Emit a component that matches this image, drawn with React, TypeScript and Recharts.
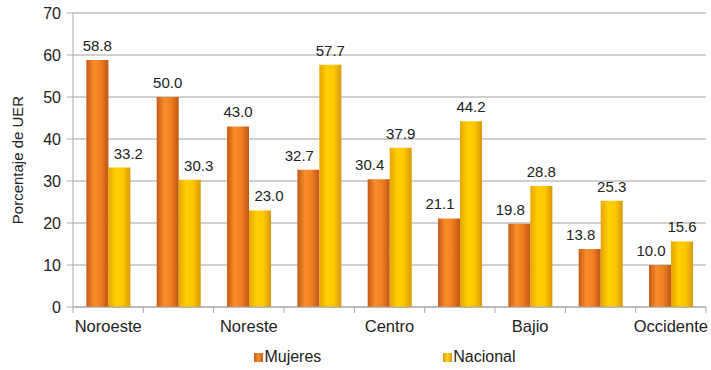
import { BarChart, Bar, XAxis, YAxis, CartesianGrid, Legend, LabelList } from 'recharts';

const regions = ['Noroeste', 'Norte', 'Noreste', 'Centro Norte', 'Centro', 'Centro Sur', 'Bajio', 'Sur', 'Occidente'];
const mujeres = [58.8, 50.0, 43.0, 32.7, 30.4, 21.1, 19.8, 13.8, 10.0];
const nacional = [33.2, 30.3, 23.0, 57.7, 37.9, 44.2, 28.8, 25.3, 15.6];
const yTicks = [0, 10, 20, 30, 40, 50, 60, 70];

const data = regions.map((name, i) => ({ name, mujeres: mujeres[i], nacional: nacional[i] }));

const W = 711;
const H = 370;
const PLOT_LEFT = 73;
const PLOT_RIGHT = 706;
const band = (PLOT_RIGHT - PLOT_LEFT) / regions.length;

const font = '"Liberation Sans", Arial, sans-serif';

const CategoryTick = (props: any) => {
  const { x, y, payload } = props;
  const idx = payload.index;
  const left = x - band / 2;
  return (
    <g>
      <line x1={left} y1={y - 8} x2={left} y2={y - 2} stroke="#a6a6a6" />
      {idx === regions.length - 1 && (
        <line x1={x + band / 2} y1={y - 8} x2={x + band / 2} y2={y - 2} stroke="#a6a6a6" />
      )}
      {idx % 2 === 0 && (
        <text x={x} y={y + 17} textAnchor="middle" fill="#222" fontSize={16.5} fontFamily={font}>
          {payload.value}
        </text>
      )}
    </g>
  );
};

const LegendContent = () => (
  <div
    style={{
      display: 'flex',
      justifyContent: 'center',
      fontFamily: font,
      fontSize: 16,
      color: '#222',
      paddingTop: 6,
      paddingLeft: 64,
    }}
  >
    <div style={{ display: 'flex', alignItems: 'center', marginRight: 122 }}>
      <span style={{ width: 9, height: 9, background: 'linear-gradient(90deg,#c85e18,#f8902c,#c85e18)', marginRight: 1 }} />
      Mujeres
    </div>
    <div style={{ display: 'flex', alignItems: 'center' }}>
      <span style={{ width: 9, height: 9, background: 'linear-gradient(90deg,#d89800,#ffd21a,#d89800)', marginRight: 1 }} />
      Nacional
    </div>
  </div>
);

// value label; the lower bar of a pair gets pushed outward like the original
const makeLabel = (own: number[], other: number[], dir: number) => (props: any) => {
  const { x, y, width, index, value } = props;
  const shift = own[index] < other[index] ? dir * 9 : 0;
  return (
    <text
      x={x + width / 2 + shift}
      y={y - 9}
      textAnchor="middle"
      fill="#222"
      fontSize={15}
      fontFamily={font}
    >
      {Number(value).toFixed(1)}
    </text>
  );
};

export default function App() {
  return (
    <div style={{ position: 'absolute', left: 0, top: 0, background: '#fff' }}>
      <BarChart
        width={W}
        height={H}
        data={data}
        margin={{ top: 13, right: W - PLOT_RIGHT, left: 0, bottom: 0 }}
        barCategoryGap="19%"
        barGap={0}
      >
        <defs>
          <linearGradient id="gOrange" x1="0" y1="0" x2="1" y2="0">
            <stop offset="0%" stopColor="#c65a16" />
            <stop offset="35%" stopColor="#f98e2a" />
            <stop offset="65%" stopColor="#f07f22" />
            <stop offset="100%" stopColor="#c05514" />
          </linearGradient>
          <linearGradient id="gYellow" x1="0" y1="0" x2="1" y2="0">
            <stop offset="0%" stopColor="#e5a400" />
            <stop offset="35%" stopColor="#ffd000" />
            <stop offset="65%" stopColor="#ffc800" />
            <stop offset="100%" stopColor="#d89800" />
          </linearGradient>
        </defs>
        <CartesianGrid vertical={false} stroke="#a0a0a0" />
        <XAxis
          dataKey="name"
          interval={0}
          height={35}
          tickLine={false}
          axisLine={{ stroke: '#a6a6a6' }}
          tick={<CategoryTick />}
        />
        <YAxis
          domain={[0, 70]}
          ticks={yTicks}
          width={PLOT_LEFT}
          tickSize={6}
          tickMargin={6}
          tickLine={{ stroke: '#a6a6a6' }}
          axisLine={{ stroke: '#a6a6a6' }}
          tick={{ fill: '#222', fontSize: 16, fontFamily: font }}
          label={{
            value: 'Porcentaje de UER',
            angle: -90,
            position: 'insideLeft',
            offset: 18,
            style: { textAnchor: 'middle', fill: '#222', fontSize: 15, fontFamily: font },
          }}
        />
        <Legend verticalAlign="bottom" height={28} content={<LegendContent />} />
        <Bar dataKey="mujeres" name="Mujeres" fill="url(#gOrange)" isAnimationActive={false}>
          <LabelList dataKey="mujeres" content={makeLabel(mujeres, nacional, -1)} />
        </Bar>
        <Bar dataKey="nacional" name="Nacional" fill="url(#gYellow)" isAnimationActive={false}>
          <LabelList dataKey="nacional" content={makeLabel(nacional, mujeres, 1)} />
        </Bar>
      </BarChart>
    </div>
  );
}
